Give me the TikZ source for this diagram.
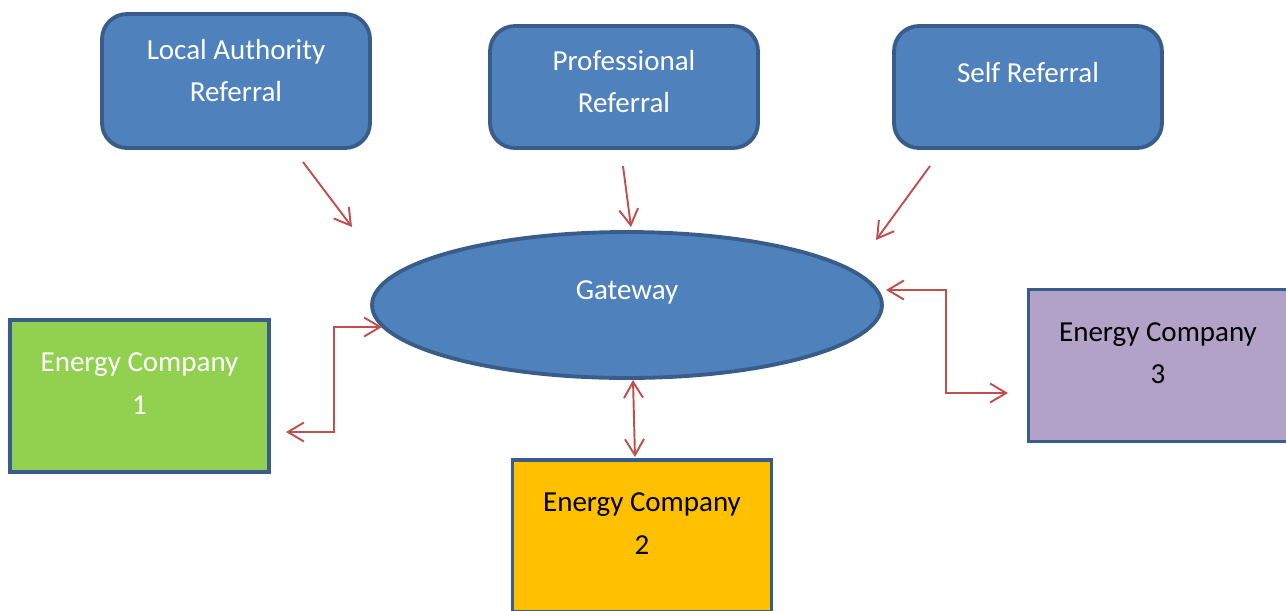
\documentclass[tikz,border=0pt]{standalone}
\usepackage{fontspec}
\setmainfont{Carlito}
\usetikzlibrary{shapes.geometric,arrows.meta}

\definecolor{boxblue}{HTML}{4F81BD}
\definecolor{edgeblue}{HTML}{385D8A}
\definecolor{ecgreen}{HTML}{92D050}
\definecolor{ecorange}{HTML}{FFC000}
\definecolor{ecpurple}{HTML}{B3A2C7}
\definecolor{arrred}{HTML}{C0504D}

\tikzset{
  referral/.style={draw=edgeblue, fill=boxblue, line width=2.2pt, rounded corners=0.5cm,
    minimum width=5.36cm},
  company/.style={draw=edgeblue, line width=2.2pt, minimum width=5.18cm, minimum height=3.04cm},
  txt/.style={align=center, font=\fontsize{16.5}{24}\selectfont, yshift=0.25cm},
  flow/.style={arrred, line width=1.1pt, -{Straight Barb[length=3.2mm,width=3.8mm]}},
  twoway/.style={flow, {Straight Barb[length=3.2mm,width=3.8mm]}-{Straight Barb[length=3.2mm,width=3.8mm]}}
}

\begin{document}
\begin{tikzpicture}[x=0.02cm, y=-0.02cm]
        \useasboundingbox (0,0) rectangle (1286,610);

        % referral boxes
        \node[referral, minimum height=2.68cm] (la) at (236,81)
            [label={[txt, white, yshift=-0.04cm]center:Local Authority\\Referral}] {};
        \node[referral, minimum height=2.44cm] (prof) at (624,87)
            [label={[txt, white, yshift=-0.14cm]center:Professional\\Referral}] {};
        \node[referral, minimum height=2.44cm] (self) at (1028,87)
            [label={[txt, white, yshift=0.03cm]center:Self Referral}] {};

        % gateway
        \node[ellipse, draw=edgeblue, fill=boxblue, line width=2.2pt,
              minimum width=10.2cm, minimum height=2.92cm] (gate) at (627,305)
            [label={[txt, white, yshift=0cm]center:Gateway}] {};

        % energy companies
        \node[company, fill=ecgreen] (ec1) at (139.5,396)
            [label={[txt, white]center:Energy Company\\1}] {};
        \node[company, fill=ecorange] (ec2) at (642,536)
            [label={[txt, black]center:Energy Company\\2}] {};
        \node[company, fill=ecpurple] (ec3) at (1158,365.5)
            [label={[txt, black]center:Energy Company\\3}] {};

        % arrow ends
        \coordinate (laout) at (303,162);
        \coordinate (lain) at (352,227);
        \coordinate (profout) at (623,166);
        \coordinate (profin) at (631,227);
        \coordinate (selfout) at (930,166);
        \coordinate (selfin) at (876,240);
        \coordinate (gate1) at (382,327);
        \coordinate (ec1in) at (286,432);
        \coordinate (gate2) at (633,380);
        \coordinate (ec2in) at (635,457);
        \coordinate (gate3) at (886,290);
        \coordinate (ec3in) at (1008,393);

        \draw[flow] (laout) -- (lain);
        \draw[flow] (profout) -- (profin);
        \draw[flow] (selfout) -- (selfin);

        \draw[twoway] (gate1) -- ++(-48,0) |- (ec1in);
        \draw[twoway] (gate2) -- (ec2in);
        \draw[twoway] (gate3) -- ++(60,0) |- (ec3in);
\end{tikzpicture}
\end{document}
